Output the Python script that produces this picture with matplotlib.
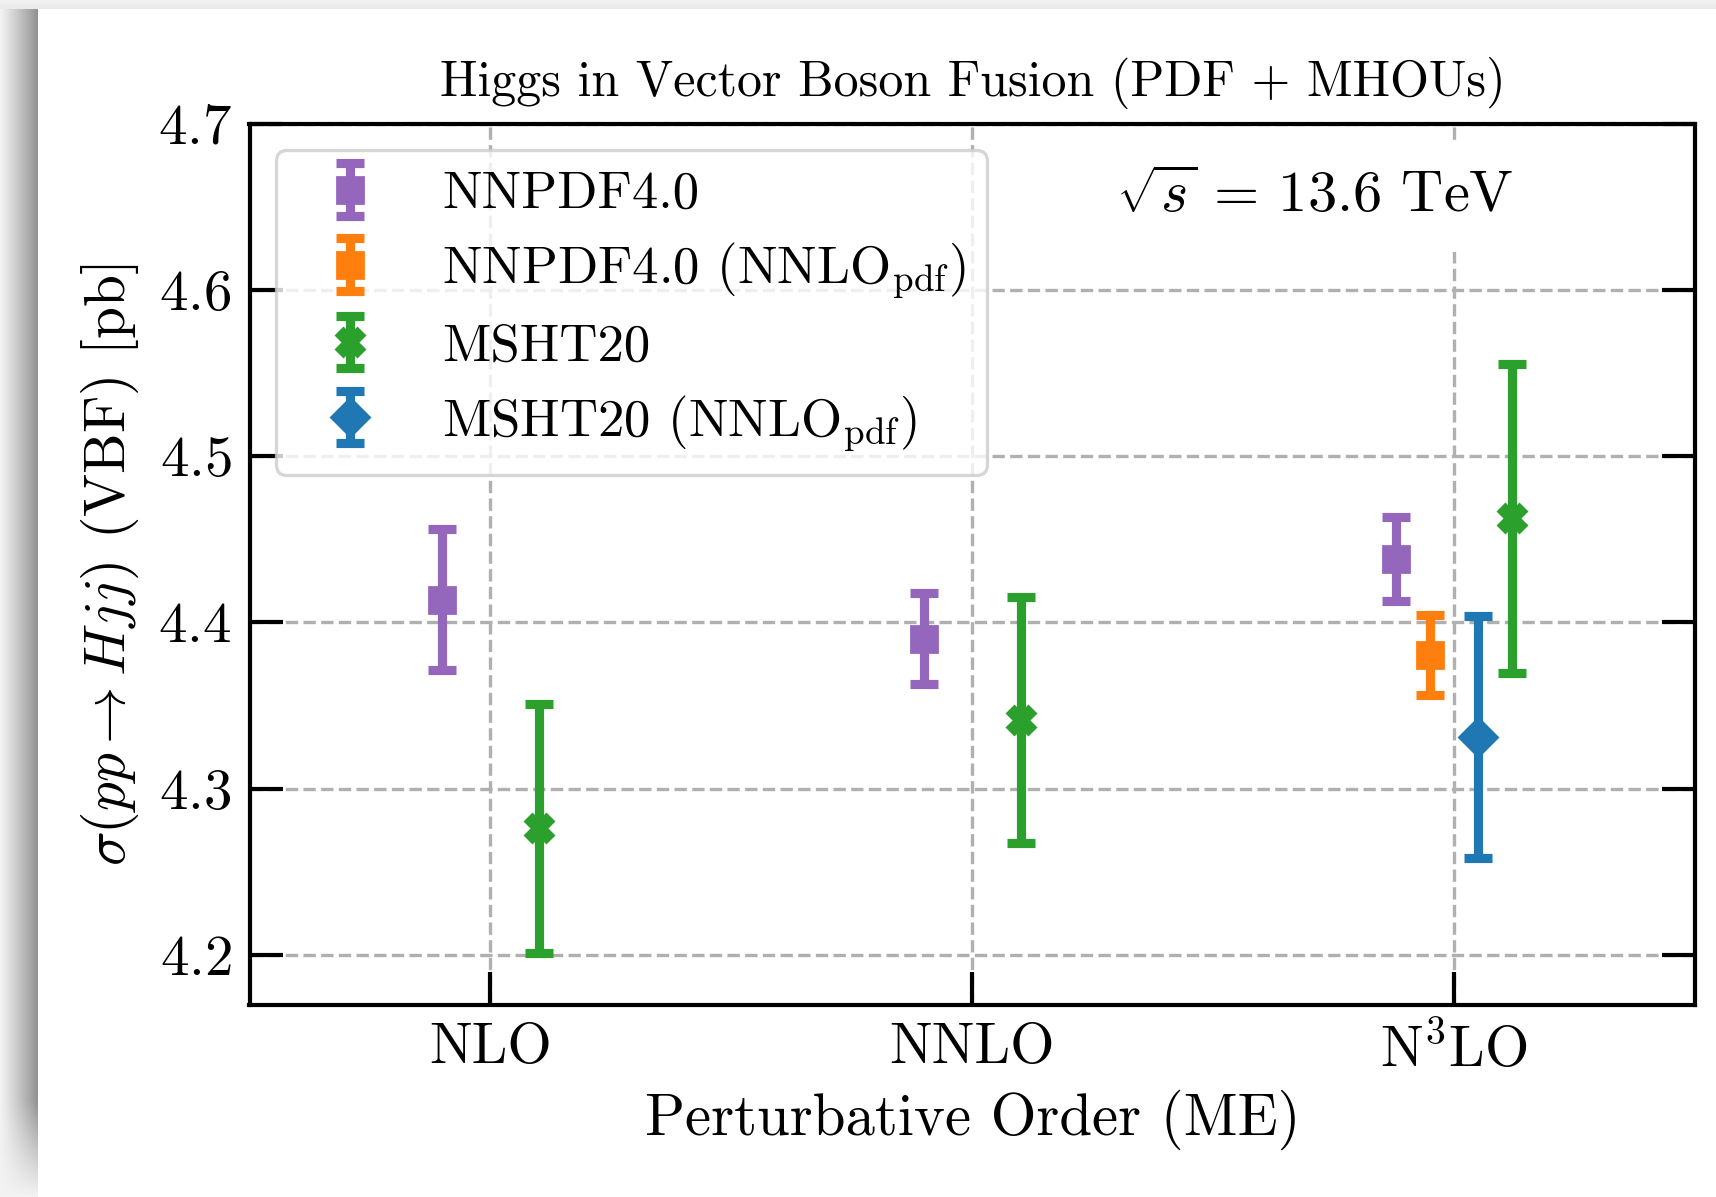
import numpy as np
import matplotlib
matplotlib.use('Agg')
import matplotlib.pyplot as plt

plt.rcParams['font.family'] = 'serif'
plt.rcParams['font.serif'] = ['cmr10']
plt.rcParams['mathtext.fontset'] = 'cm'
plt.rcParams['axes.formatter.use_mathtext'] = True
plt.rcParams['axes.unicode_minus'] = False

orders = ['NLO', 'NNLO', r'N$^3$LO']
order_pos = [0, 1, 2]

# cross sections in pb: central value, lower and upper uncertainty
nnpdf = [4.4134, 4.3902, 4.4382]
nnpdf_lo = [0.0423, 0.0275, 0.0251]
nnpdf_hi = [0.0425, 0.0274, 0.0253]

nnpdf_nnlo = [4.3803]
nnpdf_nnlo_lo = [0.0241]
nnpdf_nnlo_hi = [0.0241]

msht = [4.2766, 4.3413, 4.4627]
msht_lo = [0.0756, 0.0742, 0.0930]
msht_hi = [0.0743, 0.0737, 0.0929]

msht_nnlo = [4.3309]
msht_nnlo_lo = [0.0728]
msht_nnlo_hi = [0.0732]

W, H, DPI = 1716, 1197, 200
fig = plt.figure(figsize=(W / DPI, H / DPI), dpi=DPI)

# page shadow of the screenshot (left and top edges)
sx = np.linspace(0, 1, 60)
sy = np.linspace(0, 1, 400)
fade = np.clip(sy / 0.08, 0, 1)[:, None]
shade = 0.95 - 0.38 * (sx ** 1.1)[None, :] * fade
bg = fig.add_axes([0, 0, 38 / W, 1 - 9 / H], zorder=-10)
bg.imshow(shade[::-1], cmap='gray', vmin=0, vmax=1, aspect='auto',
          interpolation='bilinear')
bg.axis('off')
top = fig.add_axes([0, 1 - 9 / H, 1, 9 / H], zorder=-10)
top.imshow(np.array([[0.935], [0.92]]), cmap='gray', vmin=0, vmax=1,
           aspect='auto', interpolation='bilinear')
top.axis('off')

ax = fig.add_axes([249.5 / W, 1 - 1004.7 / H, (1695.2 - 249.5) / W,
                   (1004.7 - 123.7) / H])

eb = dict(ls='none', elinewidth=3.3, capsize=5, capthick=3.3)
x = np.array(order_pos, dtype=float)

ax.errorbar(x + np.array([-0.1, -0.1, -0.12]), nnpdf,
            yerr=[nnpdf_lo, nnpdf_hi], fmt='s', ms=9.5,
            color='tab:purple', label='NNPDF4.0', **eb)
ax.errorbar(x[2:] - 0.05, nnpdf_nnlo, yerr=[nnpdf_nnlo_lo, nnpdf_nnlo_hi],
            fmt='s', ms=9.5, color='tab:orange',
            label=r'NNPDF4.0 (NNLO$_{\mathrm{pdf}}$)', **eb)
ax.errorbar(x + np.array([0.1, 0.1, 0.12]), msht,
            yerr=[msht_lo, msht_hi], fmt='X', ms=10,
            color='tab:green', label='MSHT20', **eb)
ax.errorbar(x[2:] + 0.05, msht_nnlo, yerr=[msht_nnlo_lo, msht_nnlo_hi],
            fmt='D', ms=9.5, color='tab:blue',
            label=r'MSHT20 (NNLO$_{\mathrm{pdf}}$)', **eb)

ax.set_xlim(-0.5, 2.5)
ax.set_ylim(4.17, 4.7)
ax.set_xticks(order_pos)
ax.set_xticklabels(orders)
ax.set_yticks([4.2, 4.3, 4.4, 4.5, 4.6, 4.7])
ax.tick_params(axis='both', direction='in', length=12, width=1.5,
               labelsize=20.5, pad=6.5)
ax.tick_params(axis='y', right=True)
for s in ax.spines.values():
    s.set_linewidth(1.5)
ax.grid(True, ls='--', color='#b0b0b0', lw=1.2)

ax.set_title('Higgs in Vector Boson Fusion (PDF + MHOUs)', fontsize=18, pad=10)
ax.set_xlabel('Perturbative Order (ME)', fontsize=21.2)
ax.set_ylabel(r'$\sigma(pp\to Hjj)$ (VBF) [pb]', fontsize=20.7, labelpad=6)

ax.text(0.737, 0.917, r'$\sqrt{s}\,=\,13.6$ TeV', transform=ax.transAxes,
        ha='center', va='center', fontsize=21,
        bbox=dict(boxstyle='square,pad=0.5', fc='white', ec='none'))

leg = ax.legend(loc='upper left', fontsize=19, labelspacing=0.42,
                handletextpad=0.75)
leg.get_frame().set_linewidth(1.2)

fig.savefig('out.png', dpi=DPI)
